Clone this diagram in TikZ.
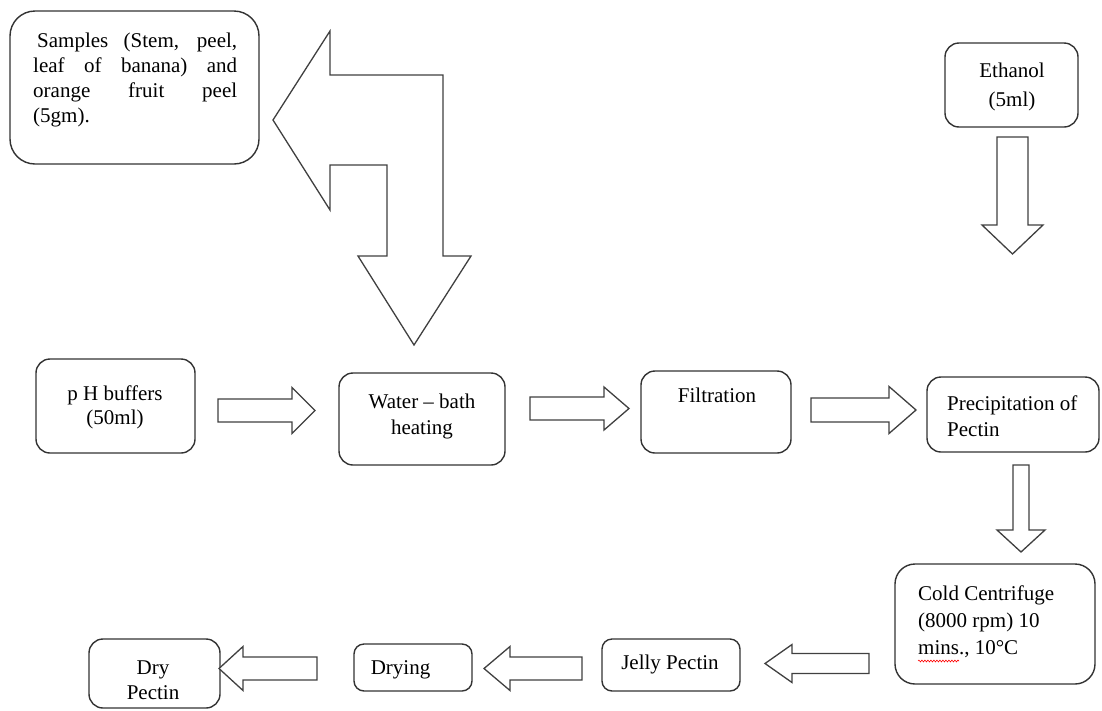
\documentclass[tikz,border=0pt]{standalone}
\usepackage{fontspec}
\setmainfont{Liberation Serif}
\usetikzlibrary{calc,decorations.pathmorphing}
\newcommand{\blockarrow}[5]{%
  \path ($(#2)!#5!(#1)$) coordinate (#2hb);
  \draw[blk] ($(#1)!#3!90:(#2)$) -- ($(#2hb)!#3!90:(#2)$) -- ($(#2hb)!#4!90:(#2)$) -- (#2)
    -- ($(#2hb)!#4!-90:(#2)$) -- ($(#2hb)!#3!-90:(#2)$) -- ($(#1)!#3!-90:(#2)$) -- cycle;}
\begin{document}
\begin{tikzpicture}[x=1pt,y=-1pt,
  box/.style={draw=black!80, line width=1.4pt, rounded corners=14pt, inner sep=0pt},
  blk/.style={draw=black!75, line width=1.3pt, line join=miter, fill=white},
  txt/.style={inner sep=0pt, font=\fontsize{21}{26}\selectfont, text=black}]
\fill[white] (0,0) rectangle (1102,710);
\useasboundingbox (0,0) rectangle (1102,710);

% boxes
\node[box, minimum width=249pt, minimum height=153pt, rounded corners=25pt] (samples) at (134.5,87.5) {};
\node[box, minimum width=133pt, minimum height=84pt] (ethanol) at (1011.5,85) {};
\node[box, minimum width=159pt, minimum height=94pt] (ph) at (115.5,406) {};
\node[box, minimum width=166pt, minimum height=92pt] (water) at (422,419) {};
\node[box, minimum width=150pt, minimum height=82pt] (filt) at (716,412) {};
\node[box, minimum width=172pt, minimum height=75pt] (precip) at (1013,414.5) {};
\node[box, minimum width=200pt, minimum height=120pt, rounded corners=20pt] (cold) at (995,624) {};
\node[box, minimum width=138pt, minimum height=52pt, rounded corners=10pt] (jelly) at (671,665) {};
\node[box, minimum width=118pt, minimum height=47pt, rounded corners=10pt] (drying) at (413,667.5) {};
\node[box, minimum width=131pt, minimum height=69pt] (dry) at (154.5,673.5) {};

% texts
\node[txt, text width=204pt, align=justify, anchor=north west, font=\fontsize{21}{25}\selectfont] (samplest) at (33,32.5)
  {\hspace*{4pt}Samples (Stem, peel,\linebreak leaf of banana) and\linebreak orange fruit peel\linebreak (5gm).};
\node[txt, align=center, anchor=north, font=\fontsize{21}{29}\selectfont] (ethanolt) at (1012,62.5) {Ethanol\\(5ml)};
\node[txt, align=center, font=\fontsize{21}{24}\selectfont] (pht) at (115,407) {p H buffers\\(50ml)};
\node[txt, align=center, anchor=north] (watert) at (422,393.5) {Water – bath\\heating};
\node[txt, anchor=mid] (filtt) at (717,400) {Filtration};
\node[txt, align=left, anchor=north west] (precipt) at (947,396) {Precipitation of\\Pectin};
\node[txt, align=left, anchor=north west, font=\fontsize{21}{27}\selectfont] (coldt) at (918,586) {Cold Centrifuge\\(8000 rpm) 10\\mins., 10°C};
\node[txt, anchor=mid] (jellyt) at (670,667) {Jelly Pectin};
\node[txt, anchor=mid] (dryingt) at (400.5,672) {Drying};
\node[txt, align=center, anchor=north, font=\fontsize{21}{25}\selectfont] (dryt) at (153,660.5) {Dry\\Pectin};
\draw[red, line width=0.6pt, decorate, decoration={snake, amplitude=0.9pt, segment length=3pt}] (918,661) -- (959,661);

% big bent double arrow (samples <-> water bath)
\draw[blk] (273,120) -- (330,31) -- (330,75) -- (443,75) -- (443,256) -- (471,256) -- (414,345)
  -- (358,256) -- (387,256) -- (387,165) -- (330,165) -- (330,210) -- cycle;

% block arrows
\coordinate (a1s) at (218,410.5);  \coordinate (a1e) at (315,410.5);
\coordinate (a2s) at (530,408.5);  \coordinate (a2e) at (629,408.5);
\coordinate (a3s) at (811,410);    \coordinate (a3e) at (916,410);
\coordinate (a4s) at (1012.5,137); \coordinate (a4e) at (1012.5,254);
\coordinate (a5s) at (1021,465);   \coordinate (a5e) at (1021,552);
\coordinate (a6s) at (869,663.5);  \coordinate (a6e) at (765,663.5);
\coordinate (a7s) at (582,668.5);  \coordinate (a7e) at (484,668.5);
\coordinate (a8s) at (317,668.5);  \coordinate (a8e) at (219,668.5);
\blockarrow{a1s}{a1e}{11.5pt}{23pt}{23pt}
\blockarrow{a2s}{a2e}{11.5pt}{21.5pt}{25pt}
\blockarrow{a3s}{a3e}{12pt}{23.5pt}{27pt}
\blockarrow{a4s}{a4e}{15.5pt}{30.5pt}{29pt}
\blockarrow{a5s}{a5e}{8pt}{24pt}{22pt}
\blockarrow{a6s}{a6e}{10pt}{19pt}{27pt}
\blockarrow{a7s}{a7e}{11.5pt}{22pt}{26pt}
\blockarrow{a8s}{a8e}{11.5pt}{22pt}{24pt}
\end{tikzpicture}
\end{document}
